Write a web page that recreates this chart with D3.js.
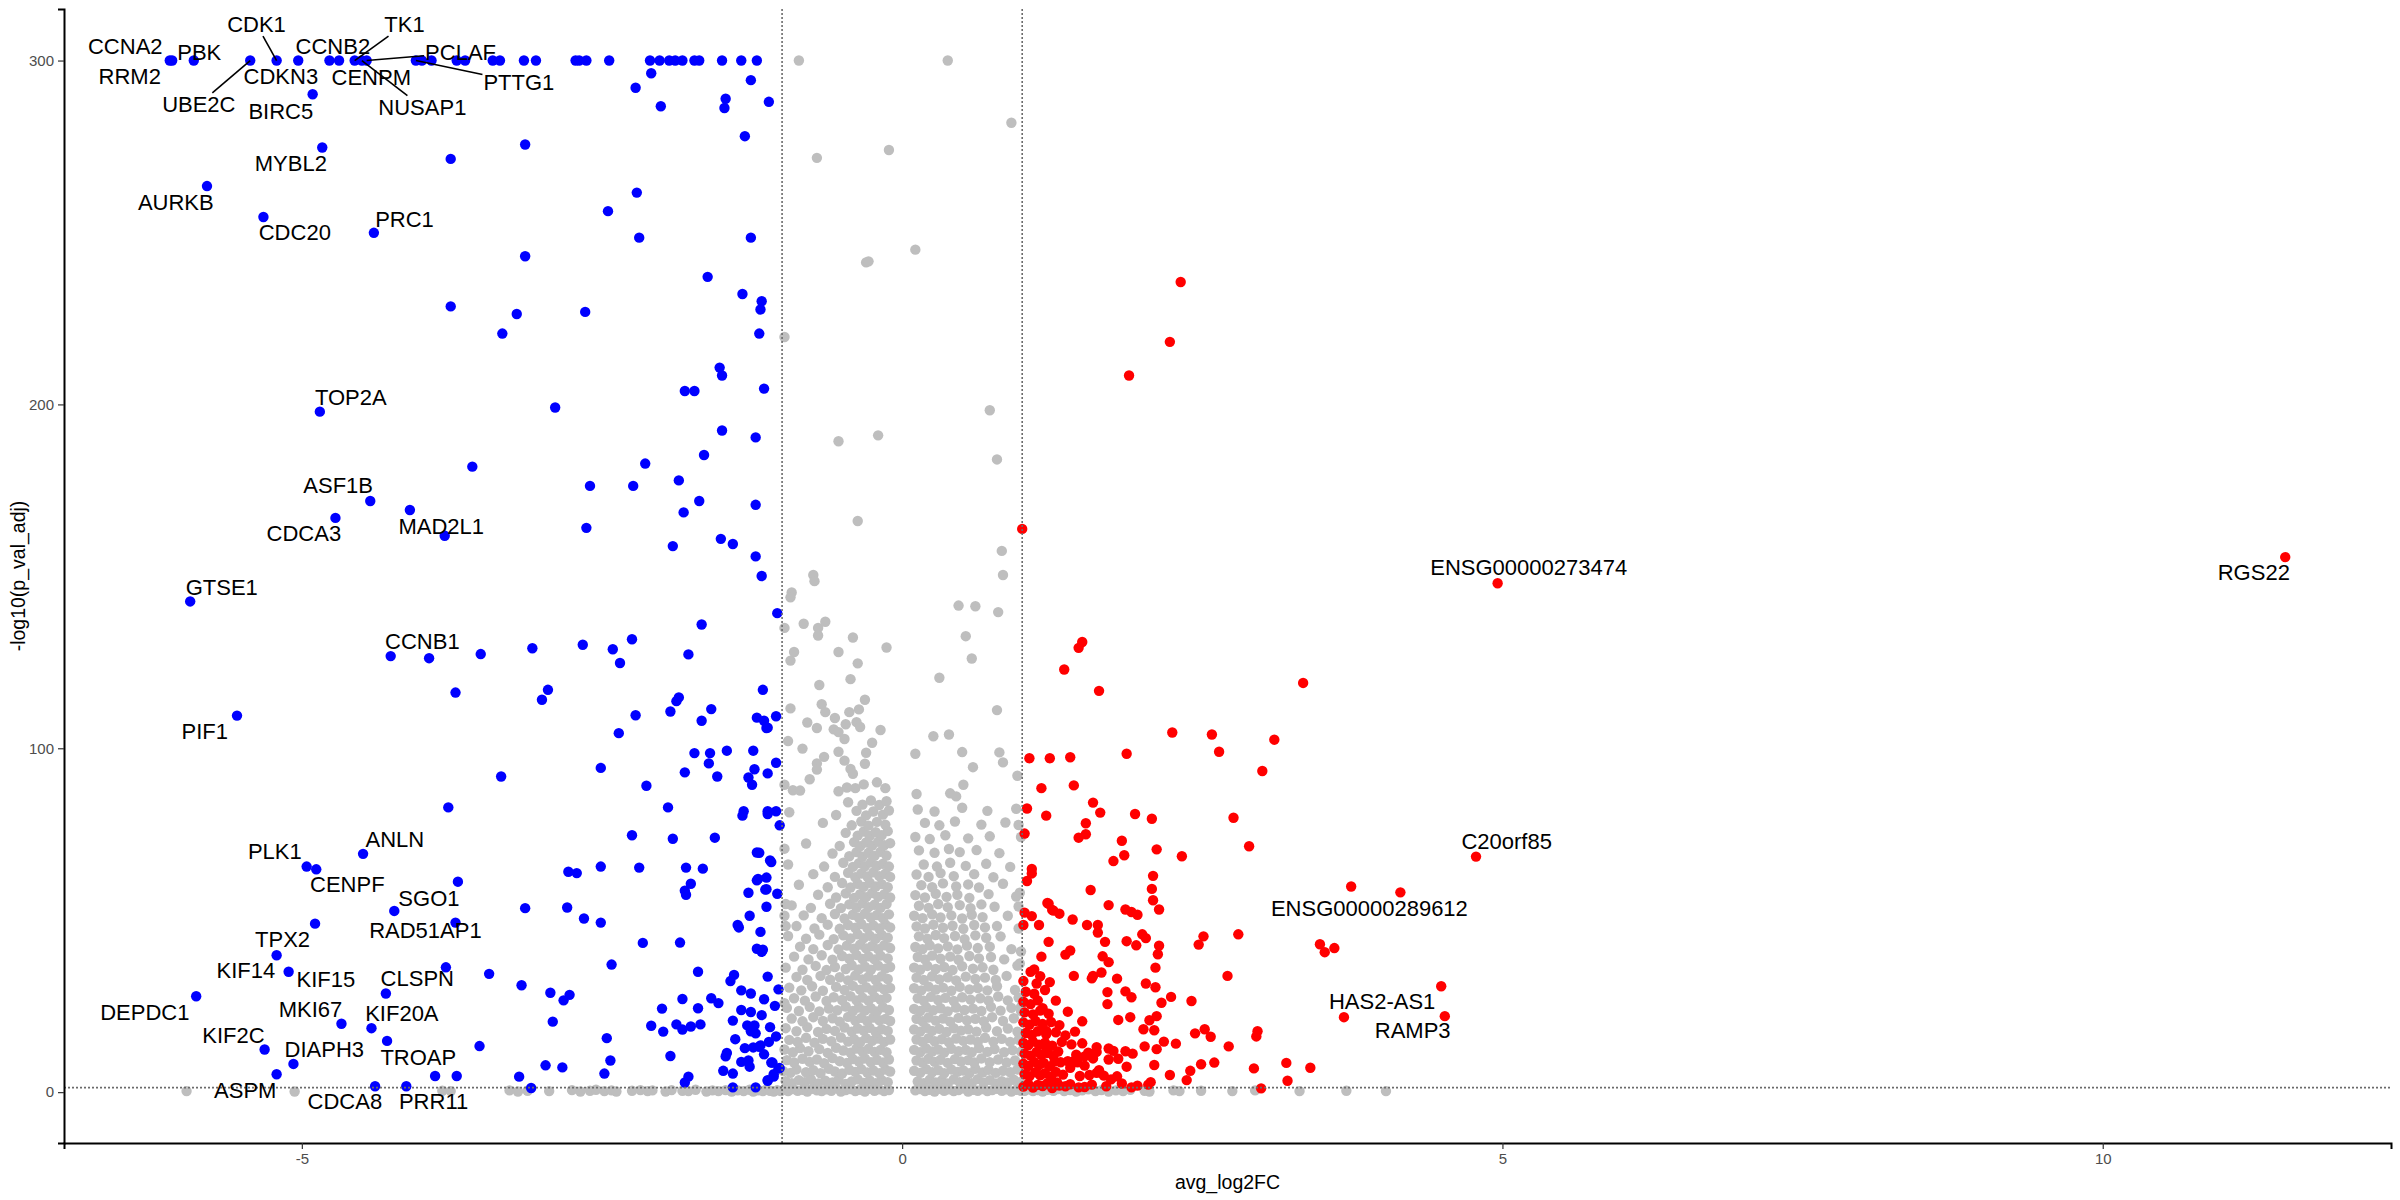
<!DOCTYPE html>
<html><head><meta charset="utf-8">
<script src="https://cdn.jsdelivr.net/npm/d3@7"></script>
<style>
body{margin:0;background:#fff;}
svg{display:block;}
text{font-family:"Liberation Sans",Arial,Helvetica,sans-serif;}
</style>
</head><body>
<svg id="chart" width="2400" height="1200"></svg>
<script>
// ---------------- DATA ----------------
const xTicks = [-5, 0, 5, 10];
const yTicks = [0, 100, 200, 300];
const xTitle = "avg_log2FC";
const yTitle = "-log10(p_val_adj)";
const fcCutoff = 1;
const padjCutoff = 0.05;

// labelled genes: [gene, avg_log2FC, -log10(p_val_adj)]
const labeledGenes = ["CCNA2","RRM2","PBK","UBE2C","CDK1","CDKN3","BIRC5","CCNB2","TK1","CENPM","PCLAF","NUSAP1","PTTG1","MYBL2","AURKB","CDC20","PRC1","TOP2A","ASF1B","CDCA3","MAD2L1","GTSE1","CCNB1","PIF1","ANLN","PLK1","CENPF","SGO1","RAD51AP1","TPX2","KIF14","KIF15","CLSPN","DEPDC1","MKI67","KIF20A","KIF2C","DIAPH3","TROAP","ASPM","CDCA8","PRR11","RGS22","ENSG00000273474","C20orf85","ENSG00000289612","HAS2-AS1","RAMP3"];
const labeledLog2FC = [-6.10,-6.08,-5.90,-5.43,-5.21,-5.03,-4.91,-4.77,-4.56,-4.69,-4.46,-4.50,-4.05,-4.83,-5.79,-5.32,-4.40,-4.85,-4.43,-4.72,-3.81,-5.93,-4.26,-5.54,-4.49,-4.96,-4.88,-3.70,-4.23,-4.89,-5.21,-5.11,-4.30,-5.88,-4.67,-4.42,-5.31,-5.07,-4.29,-5.21,-4.39,-4.13,11.52,4.96,4.78,4.15,4.49,4.52];
const labeledNegLogP = [300,300,300,300,300,300,290.2,300,300,300,300,300,300,274.7,263.5,254.5,249.9,197.9,171.9,167,161.8,142.7,126.8,109.5,69.3,65.6,64.8,61.2,52.7,49,39.8,35,28.7,27.9,19.9,18.6,12.4,8.2,14.9,5.2,1.7,1.7,155.6,148,68.5,58.1,30.8,22.1];

// down-regulated (blue) genes [avg_log2FC, -log10(p_val_adj)]
const downPoints = [
[-4.00,300],[-3.92,300],[-3.71,300],[-3.64,300],[-3.41,300],[-3.35,300],[-3.15,300],[-3.05,300],[-2.72,300],[-2.69,300],[-2.63,300],[-2.44,300],[-2.10,300],[-2.02,300],[-1.94,300],[-1.89,300],[-1.83,300],[-1.73,300],[-1.69,300],[-1.50,300],[-1.34,300],[-1.21,300],
[-2.09,296.3],[-2.22,292.1],[-1.26,294.3],[-1.47,288.9],[-2.01,286.7],[-1.48,286.2],[-1.11,288],[-1.31,278],[-3.14,275.6],[-3.76,271.4],[-2.21,261.6],[-2.45,256.2],[-2.19,248.5],[-1.26,248.5],[-3.14,243.1],
[-3.76,228.5],[-3.21,226.3],[-2.64,226.9],[-3.33,220.6],[-1.62,237.1],[-1.33,232.1],[-1.17,230],[-1.18,227.6],[-1.19,220.6],[-1.52,210.7],[-1.50,208.4],
[-1.81,203.9],[-1.73,203.9],[-1.15,204.6],[-2.89,199.1],[-1.50,192.4],[-1.22,190.4],[-1.65,185.3],[-3.58,181.9],[-2.14,182.8],[-1.86,177.9],[-2.60,176.3],[-2.24,176.3],[-1.69,171.9],[-4.10,169.3],[-1.22,170.8],[-1.82,168.6],[-2.63,164.1],[-1.91,158.8],[-1.51,160.9],[-1.41,159.4],[-1.22,155.8],[-1.17,150.1],[-1.04,139.3],[-1.67,136],[-2.25,131.7],[-2.66,130.1],[-3.08,129.1],[-3.51,127.4],[-3.94,126.2],[-1.78,127.3],
[-2.41,128.8],[-2.35,124.8],[-3.72,116.2],[-2.95,117],[-3.00,114.1],[-1.16,117],[-1.86,114.8],[-1.88,113.7],[-1.93,110.7],[-2.22,109.6],[-1.59,111.4],[-1.67,108],[-1.21,108.9],[-1.15,108],[-1.12,106],[-1.05,109.3],[-1.13,105.9],[-2.36,104.4],[-1.73,98.6],[-1.60,98.6],[-1.46,99.3],[-1.24,99.3],[-1.61,95.6],[-1.23,93.9],[-1.05,95.8],[-1.12,92.7],[-2.51,94.3],[-1.81,93],[-1.54,91.8],[-1.28,91.5],[-1.25,89.4],[-3.34,91.8],[-2.13,89.1],[-3.78,82.8],[-1.95,82.8],[-1.32,81.7],[-1.33,80.4],[-1.12,81.7],[-1.12,80.9],[-1.05,81.7],[-1.02,77.6],[-2.25,74.7],[-1.91,73.7],[-1.56,74],[-1.21,69.7],[-1.19,69.6],[-1.09,66.9],[-1.10,67.4],
[-2.78,64.1],[-2.71,63.7],[-2.51,65.6],[-2.19,65.3],[-1.80,65.3],[-1.66,65],[-1.76,60.6],[-1.81,58.6],[-1.80,57.4],[-1.21,61.6],[-1.20,62],[-1.13,62.4],[-1.28,58],[-1.13,59],[-1.04,57.7],[-1.14,58.9],[-3.14,53.5],[-2.79,53.7],[-2.65,50.5],[-2.51,49.3],[-1.13,53.9],[-1.37,48.6],[-1.36,47.9],[-1.27,51.3],[-1.18,46.6],[-3.72,49.3],[-2.16,43.4],[-1.85,43.5],[-1.21,41.7],[-1.17,40.8],[-1.16,41.4],
[-3.80,36.3],[-3.44,34.4],[-2.42,37.1],[-3.17,31.1],[-2.93,28.9],[-2.82,26.7],[-2.77,28.3],[-1.70,35],[-1.40,34.1],[-1.43,32.3],[-1.34,29.6],[-1.26,28.7],[-1.12,33.6],[-1.03,29.9],[-1.83,27.1],[-1.59,27.3],[-1.53,25.9],[-1.70,24.4],[-2.00,24.3],[-2.91,20.5],[-2.09,19.3],[-1.99,17.6],[-1.88,19.7],[-1.83,18.2],[-1.76,19.1],[-1.68,19.7],[-1.41,20.8],[-1.34,23.9],[-1.26,23.3],[-1.29,19.4],[-1.23,19.4],[-1.26,17.7],[-1.22,17.1],[-1.10,18.9],[-1.39,15.4],[-1.11,14.6],[-1.31,12.8],[-1.24,13],[-1.19,13.2],[-1.18,13.6],[-2.46,15.7],[-3.52,13.4],
[-1.93,10.5],[-1.46,11.4],[-1.47,10.4],[-1.34,8.8],[-1.28,9.2],[-1.27,7.4],[-1.09,8.6],[-1.02,7],[-2.43,9.2],[-2.97,7.8],[-2.83,7.2],[-2.48,5.4],[-3.89,4.7],[-3.71,4.7],[-3.19,4.5],[-3.09,1.2],[-1.81,2.8],[-1.78,4.5],[-1.49,6.2],[-1.41,5.4],[-1.12,3.3],[-1.07,4.5],[-1.41,1.4],[-1.22,1.4],[-1.08,8.6],[-1.03,6.9],[-1.12,3.5],[-1.07,5.2],[-1.15,11.0],[-1.05,16.2],[-1.17,22.4],[-1.06,25.1],[-1.15,27.0]
];

// up-regulated (red) genes [avg_log2FC, -log10(p_val_adj)]
const upPoints = [
[2.32,235.6],[2.23,218.2],[1.89,208.4],[1.00,163.8],[1.50,130.9],[1.47,129.2],[1.35,122.9],[1.64,116.7],[3.34,119],[2.25,104.6],[2.58,104],[2.64,99],[3.10,102.5],[3.00,93.4],[1.06,97.1],[1.40,97.4],[1.87,98.4],[1.16,88.4],[1.43,89.2],[1.04,82.5],[1.20,80.4],[1.59,84.2],[1.65,81.3],[1.94,80.9],[2.08,79.5],[2.76,79.8],[1.02,75.2],[1.47,74],[1.53,78.2],[1.53,75],[1.83,73.1],[1.85,68.9],[1.76,67.2],[2.12,70.6],[2.33,68.6],[2.89,71.5],[1.08,64.9],[1.08,63.6],[1.04,61.4],[2.09,62.9],[2.08,59.1],[2.09,55.8],[2.14,53.1],[1.57,58.8],[1.72,54.4],[3.74,59.8],[1.23,97.1],[1.21,55],[1.25,53],
[1.22,54.8],[1.26,52.8],[1.31,51.9],[1.02,52.2],[1.08,51.2],[1.01,48.6],[1.14,48.6],[1.42,50.2],[1.54,48.6],[1.63,48.6],[1.63,46.4],[1.86,53.1],[1.91,52.4],[1.96,51.6],[1.87,43.9],[1.95,42.7],[2.00,45.9],[2.03,44.8],[2.14,42.6],[2.13,40.1],[2.11,36.2],[2.11,30.5],[1.69,43.7],[1.67,39.5],[1.72,37.8],[1.36,40],[1.40,41.2],[1.22,43.7],[1.16,39.4],[1.07,35],[1.10,35.7],[1.15,33.7],[1.23,32],[1.43,33.8],[1.59,33.8],[1.58,33.1],[1.66,34.8],[1.79,33],[2.03,31.6],[2.47,42.9],[2.51,45.3],[2.80,45.9],[2.71,33.8],[2.24,27.7],[2.41,26.5],[2.16,26],[2.12,22.1],[2.06,20.9],[2.01,18.3],[2.10,18],[2.18,14.7],[2.28,14.1],[2.44,17.1],[2.52,18.3],[2.57,16.1],[2.96,17.7],[2.95,16.2],[2.72,13.3],[1.71,29.1],[1.71,25.6],[1.86,29.3],[1.91,27.6],[1.90,21.8],[1.80,21],[3.48,43],[3.52,40.7],[3.60,41.9],[3.68,21.8],
[2.93,6.9],[3.20,8.5],[3.40,7.1],[3.21,3.3],[2.99,1.1],[2.23,5],[2.37,3.5],[2.40,6.2],[2.49,8.1],[2.60,8.6],[2.10,7.9],[1.96,1.9],[2.05,2.2],[2.07,2.9],[1.87,7.4],[2.02,13.3],[2.12,12.5],[1.86,11.9],[1.92,11.2],[1.72,12.7],[1.76,12],[1.80,9.7],[1.72,9.5],[1.62,13.1],[1.62,11.7],[1.59,9.8],[1.52,10.4],[1.64,6.4],[1.56,5],[1.74,3.7],[1.79,4.6],[1.46,8.7],[1.38,9],[1.43,9],[1.32,8.7],[1.40,7.1],[1.47,1.4],[1.36,1.7],[1.29,2.8],
[1.01,1.6],[1.05,2.4],[1.09,1.3],[1.13,2.1],[1.17,1.8],[1.21,2.6],[1.25,1.2],[1.31,1.9],[1.40,2.3],[1.52,1.5],[1.58,2.2],[1.70,1.7],[1.83,2.5],[1.91,1.4],
[1.02,5.2],[1.06,4.6],[1.11,5.8],[1.15,4.9],[1.19,5.5],[1.24,4.4],[1.28,5.9],[1.34,5.1],[1.48,4.7],[1.62,5.6],[1.68,4.8],
[1.01,8.3],[1.05,7.6],[1.10,8.8],[1.14,7.9],[1.18,8.5],[1.23,7.5],[1.27,8.9],[1.52,7.7],
[1.02,11.2],[1.07,10.6],[1.12,11.7],[1.16,10.8],[1.21,11.4],[1.26,10.5],[1.30,11.8],[1.45,10.9],[1.55,11.5],
[1.01,14.3],[1.05,13.6],[1.09,14.7],[1.14,13.8],[1.19,14.4],[1.25,13.5],[1.33,14.6],[1.41,13.9],[1.50,14.2],
[1.03,17.2],[1.08,16.6],[1.13,17.7],[1.20,16.8],[1.28,17.4],[1.36,16.5],[1.44,17.6],
[1.01,20.3],[1.06,19.6],[1.11,20.7],[1.17,19.8],[1.24,20.4],[1.31,19.5],[1.50,20.6],
[1.02,23.2],[1.09,22.6],[1.15,23.7],[1.22,22.8],[1.38,23.4],
[1.01,26.3],[1.07,25.6],[1.13,26.7],[1.28,26.6],[1.03,29.2],[1.10,28.6],[1.19,29.7],[1.01,32.3],[1.12,31.6],[1.17,24.4],[1.20,17.8],[1.20,12.1]
];

// not significant (grey) genes [avg_log2FC, -log10(p_val_adj)]
const notSigPoints = [
// sparse upper genes
[-0.86,300],[0.38,300],[0.91,281.9],[-0.11,274],[-0.71,271.7],[0.11,245],[-0.30,241.3],[-0.28,241.6],[-0.98,219.6],[-0.53,189.3],[-0.20,191],[0.73,198.3],[0.79,184],[-0.37,166.1],[0.83,157.4],[0.84,150.4],[-0.74,150.4],[-0.73,148.6],[-0.92,145.3],[-0.93,143.9],[0.47,141.5],[0.61,141.3],[0.80,139.6],[-0.98,135],[-0.82,136.2],[-0.70,135],[-0.64,136.8],[-0.70,132.8],[-0.41,132.2],[0.53,132.6],[-0.90,128],[-0.93,125.5],[-0.53,128],[-0.13,129.3],[-0.37,124.7],[0.58,126.1],[0.31,120.5],[-0.43,120.1],[-0.69,118.4],[0.79,111.1],[-0.93,111.6],[-0.67,112.8],[-0.64,110.5],[-0.31,114.1],[-0.36,111.3],[-0.44,110.5],[0.26,103.5],[0.39,104],[0.11,98.4],[0.50,98.9],[0.81,98.8],[0.59,94.5],[0.84,95.9],[0.12,86.7],[0.40,86.9],[0.45,86],[0.51,89.4],[0.96,92],
[-0.79,107.5],[-0.71,105.9],[-0.56,108.8],[-0.47,107],[-0.38,107.6],[-0.35,106.2],[-0.57,105.5],[-0.53,104.7],[-0.48,102.7],[-0.18,105.3],[-0.25,101.6],[-0.95,102.1],[-0.83,99.9],[-0.53,99],[-0.48,96.4],[-0.30,98.7],[-0.65,97.5],[-0.71,95.6],[-0.43,94],[-0.71,93.8],[-0.41,92.6],[-0.31,95.5],[-0.98,89.4],[-0.91,87.8],[-0.85,87.7],[-0.77,91],[-0.21,90.1],[-0.14,88.4],[-0.32,89.5],[-0.39,88.4],[-0.46,88.6],[-0.53,87.5],
[-0.98,70.8],[-0.97,54.7],[-0.98,51.3],[-0.97,48.3],[-0.98,25.9],[0.97,77.7],[0.99,74.2],[0.98,58],[0.97,54],[0.99,40.9],[0.98,37.4],[0.99,24.8],
// left cloud
[-0.99,0.6],[-0.95,0.3],[-0.91,0.9],[-0.87,0.4],[-0.83,0.7],[-0.79,0.2],[-0.75,1.0],[-0.71,0.5],[-0.67,0.3],[-0.63,0.8],[-0.59,0.4],[-0.55,1.1],[-0.51,0.2],[-0.47,0.6],[-0.43,0.9],[-0.39,0.3],[-0.35,0.7],[-0.31,0.2],[-0.27,1.0],[-0.23,0.4],[-0.19,0.8],[-0.15,0.3],[-0.11,0.6],
[-0.97,3.2],[-0.92,2.6],[-0.86,3.5],[-0.81,2.9],[-0.76,3.8],[-0.70,2.5],[-0.64,3.3],[-0.58,2.8],[-0.53,3.6],[-0.47,2.4],[-0.42,3.1],[-0.37,3.7],[-0.32,2.7],[-0.27,3.4],[-0.22,2.6],[-0.17,3.5],[-0.12,2.9],
[-0.99,6.1],[-0.93,5.6],[-0.88,6.6],[-0.80,5.8],[-0.74,6.4],[-0.68,5.5],[-0.61,6.8],[-0.56,6.0],[-0.50,5.4],[-0.44,6.5],[-0.39,5.9],[-0.34,6.7],[-0.29,5.7],[-0.24,6.3],[-0.19,5.5],[-0.14,6.6],[-0.10,6.0],
[-0.96,9.3],[-0.90,8.6],[-0.83,9.7],[-0.77,8.8],[-0.71,9.5],[-0.65,8.4],[-0.58,9.9],[-0.52,9.0],[-0.46,8.5],[-0.41,9.6],[-0.36,8.9],[-0.31,9.8],[-0.26,8.7],[-0.21,9.4],[-0.16,8.6],[-0.11,9.5],
[-0.98,12.4],[-0.91,11.6],[-0.85,12.8],[-0.78,11.9],[-0.69,12.5],[-0.62,11.4],[-0.55,12.9],[-0.49,12.1],[-0.43,11.5],[-0.38,12.7],[-0.33,11.8],[-0.28,12.6],[-0.23,11.7],[-0.18,12.3],[-0.13,11.6],
[-0.94,15.2],[-0.87,14.6],[-0.80,15.8],[-0.73,14.4],[-0.66,15.5],[-0.59,14.8],[-0.51,15.9],[-0.45,14.7],[-0.40,15.4],[-0.35,14.5],[-0.30,15.7],[-0.25,14.9],[-0.20,15.6],[-0.15,14.6],[-0.10,15.3],
[-0.97,18.6],[-0.88,17.7],[-0.79,18.9],[-0.70,17.5],[-0.63,18.4],[-0.56,17.8],[-0.48,18.8],[-0.42,17.6],[-0.37,18.5],[-0.32,17.9],[-0.27,18.7],[-0.22,17.5],[-0.17,18.3],[-0.12,17.8],
[-0.92,21.4],[-0.83,20.6],[-0.74,21.8],[-0.66,20.7],[-0.58,21.5],[-0.52,20.5],[-0.45,21.9],[-0.39,20.8],[-0.34,21.6],[-0.29,20.6],[-0.24,21.7],[-0.19,20.9],[-0.14,21.3],[-0.10,20.7],
[-0.96,24.5],[-0.86,23.6],[-0.77,24.8],[-0.69,23.5],[-0.61,24.3],[-0.54,23.8],[-0.47,24.9],[-0.41,23.6],[-0.36,24.6],[-0.31,23.7],[-0.26,24.4],[-0.21,23.5],[-0.16,24.7],[-0.11,23.9],
[-0.90,27.3],[-0.81,26.6],[-0.72,27.8],[-0.63,26.5],[-0.57,27.6],[-0.50,26.8],[-0.43,27.9],[-0.38,26.7],[-0.33,27.5],[-0.28,26.6],[-0.23,27.7],[-0.18,26.9],[-0.13,27.4],
[-0.94,30.4],[-0.84,29.6],[-0.75,30.8],[-0.66,29.5],[-0.55,30.6],[-0.48,29.7],[-0.41,30.9],[-0.35,29.8],[-0.30,30.5],[-0.25,29.6],[-0.20,30.7],[-0.15,29.9],[-0.10,30.3],
[-0.88,33.5],[-0.79,32.6],[-0.68,33.8],[-0.60,32.7],[-0.52,33.4],[-0.45,32.5],[-0.39,33.9],[-0.33,32.8],[-0.28,33.6],[-0.22,32.6],[-0.17,33.7],[-0.12,32.9],
[-0.97,36.2],[-0.83,35.6],[-0.72,36.7],[-0.63,35.5],[-0.56,36.4],[-0.47,35.8],[-0.42,36.9],[-0.36,35.7],[-0.31,36.5],[-0.26,35.6],[-0.20,36.8],[-0.14,35.9],[-0.10,36.4],
[-0.90,39.4],[-0.78,38.6],[-0.67,39.8],[-0.58,38.5],[-0.50,39.6],[-0.44,38.8],[-0.38,39.9],[-0.33,38.7],[-0.28,39.5],[-0.23,38.6],[-0.18,39.7],[-0.12,38.9],
[-0.85,42.3],[-0.74,41.6],[-0.62,42.8],[-0.53,41.5],[-0.46,42.6],[-0.40,41.7],[-0.35,42.9],[-0.30,41.8],[-0.25,42.5],[-0.20,41.6],[-0.15,42.7],[-0.10,41.9],
[-0.95,45.4],[-0.80,44.6],[-0.69,45.8],[-0.57,44.5],[-0.49,45.6],[-0.43,44.7],[-0.37,45.9],[-0.32,44.8],[-0.27,45.5],[-0.22,44.6],[-0.17,45.7],[-0.12,44.9],
[-0.88,48.3],[-0.73,47.6],[-0.62,48.7],[-0.52,47.5],[-0.45,48.6],[-0.39,47.8],[-0.34,48.9],[-0.29,47.7],[-0.24,48.5],[-0.19,47.6],[-0.14,48.8],[-0.10,47.9],
[-0.82,51.4],[-0.67,50.6],[-0.56,51.8],[-0.48,50.5],[-0.41,51.6],[-0.36,50.7],[-0.31,51.9],[-0.26,50.8],[-0.21,51.5],[-0.16,50.6],[-0.11,51.7],
[-0.92,54.3],[-0.76,53.6],[-0.60,54.8],[-0.51,53.5],[-0.44,54.6],[-0.38,53.7],[-0.33,54.9],[-0.28,53.8],[-0.23,54.5],[-0.18,53.6],[-0.13,54.7],
[-0.70,57.4],[-0.55,56.6],[-0.47,57.8],[-0.40,56.5],[-0.35,57.6],[-0.30,56.7],[-0.25,57.9],[-0.20,56.8],[-0.15,57.5],[-0.10,56.6],
[-0.86,60.3],[-0.62,59.6],[-0.50,60.8],[-0.43,59.5],[-0.37,60.6],[-0.32,59.7],[-0.27,60.9],[-0.22,59.8],[-0.17,60.5],[-0.12,59.6],
[-0.74,63.4],[-0.56,62.6],[-0.45,63.8],[-0.39,62.5],[-0.34,63.6],[-0.29,62.7],[-0.24,63.9],[-0.19,62.8],[-0.14,63.5],[-0.10,62.6],
[-0.95,66.2],[-0.65,65.6],[-0.49,66.7],[-0.41,65.5],[-0.36,66.6],[-0.31,65.7],[-0.26,66.8],[-0.21,65.8],[-0.16,66.4],[-0.11,65.6],
[-0.58,69.4],[-0.44,68.6],[-0.38,69.8],[-0.33,68.5],[-0.28,69.6],[-0.23,68.7],[-0.18,69.9],[-0.13,68.8],
[-0.80,72.3],[-0.52,71.6],[-0.40,72.7],[-0.35,71.5],[-0.30,72.6],[-0.25,71.7],[-0.20,72.8],[-0.15,71.8],[-0.10,72.4],
[-0.47,75.4],[-0.37,74.6],[-0.32,75.8],[-0.27,74.5],[-0.22,75.6],[-0.17,74.7],[-0.12,75.9],
[-0.66,78.3],[-0.42,77.6],[-0.34,78.7],[-0.28,77.5],[-0.21,78.6],[-0.14,77.8],
[-0.94,81.4],[-0.55,80.6],[-0.38,81.8],[-0.30,80.5],[-0.24,81.6],[-0.16,80.7],[-0.11,81.9],
[-0.45,84.3],[-0.33,83.6],[-0.26,84.8],[-0.19,83.5],[-0.13,84.6],
// right cloud
[0.11,0.5],[0.15,0.9],[0.19,0.3],[0.23,0.7],[0.27,0.2],[0.31,1.0],[0.35,0.4],[0.39,0.8],[0.43,0.3],[0.47,0.6],[0.51,1.1],[0.55,0.2],[0.59,0.7],[0.63,0.4],[0.67,0.9],[0.71,0.3],[0.75,0.6],[0.79,1.0],[0.83,0.4],[0.87,0.8],[0.91,0.2],[0.95,0.7],[0.99,0.4],
[0.13,3.1],[0.18,2.6],[0.23,3.6],[0.28,2.8],[0.33,3.4],[0.38,2.5],[0.43,3.7],[0.48,2.9],[0.53,3.3],[0.58,2.6],[0.63,3.8],[0.68,2.7],[0.73,3.5],[0.78,2.5],[0.83,3.2],[0.88,2.8],[0.93,3.6],[0.98,2.9],
[0.10,6.2],[0.15,5.6],[0.20,6.7],[0.25,5.8],[0.30,6.4],[0.35,5.5],[0.41,6.6],[0.46,5.9],[0.51,6.3],[0.56,5.5],[0.61,6.8],[0.67,5.7],[0.72,6.5],[0.78,5.6],[0.84,6.2],[0.90,5.8],[0.96,6.6],
[0.12,9.2],[0.17,8.6],[0.22,9.7],[0.27,8.8],[0.32,9.4],[0.38,8.5],[0.44,9.6],[0.49,8.9],[0.55,9.3],[0.60,8.6],[0.66,9.8],[0.73,8.7],[0.80,9.5],[0.87,8.6],[0.94,9.2],
[0.10,12.3],[0.15,11.6],[0.20,12.7],[0.25,11.8],[0.30,12.4],[0.35,11.5],[0.41,12.6],[0.47,11.9],[0.53,12.3],[0.58,11.6],[0.64,12.8],[0.71,11.7],[0.77,12.5],[0.85,11.6],[0.92,12.2],[0.99,11.8],
[0.12,15.3],[0.17,14.6],[0.22,15.7],[0.27,14.8],[0.33,15.4],[0.39,14.5],[0.45,15.6],[0.51,14.9],[0.57,15.3],[0.63,14.6],[0.69,15.8],[0.76,14.7],[0.83,15.5],[0.90,14.6],[0.97,15.2],
[0.10,18.2],[0.15,17.6],[0.20,18.7],[0.25,17.8],[0.31,18.4],[0.37,17.5],[0.43,18.6],[0.49,17.9],[0.55,18.3],[0.62,17.6],[0.70,18.8],[0.79,17.7],[0.88,18.5],[0.96,17.6],
[0.12,21.3],[0.17,20.6],[0.22,21.7],[0.28,20.8],[0.34,21.4],[0.40,20.5],[0.47,21.6],[0.54,20.9],[0.61,21.3],[0.68,20.6],[0.75,21.8],[0.84,20.7],[0.93,21.5],
[0.10,24.2],[0.15,23.6],[0.20,24.7],[0.26,23.8],[0.32,24.4],[0.38,23.5],[0.45,24.6],[0.52,23.9],[0.59,24.3],[0.66,23.6],[0.74,24.8],[0.82,23.7],[0.91,24.5],[0.99,23.6],
[0.13,27.3],[0.18,26.6],[0.24,27.7],[0.30,26.8],[0.36,27.4],[0.43,26.5],[0.50,27.6],[0.57,26.9],[0.65,27.3],[0.72,26.6],[0.80,27.8],[0.88,26.7],[0.97,27.5],
[0.10,30.2],[0.16,29.6],[0.22,30.7],[0.28,29.8],[0.34,30.4],[0.41,29.5],[0.48,30.6],[0.56,29.9],[0.63,30.3],[0.71,29.6],[0.79,30.8],[0.94,29.7],
[0.12,33.3],[0.18,32.6],[0.25,33.7],[0.31,32.8],[0.38,33.4],[0.45,32.5],[0.53,33.6],[0.61,32.9],[0.69,33.3],[0.78,32.6],[0.87,33.8],
[0.10,36.2],[0.15,35.6],[0.21,36.7],[0.28,35.8],[0.35,36.4],[0.42,35.5],[0.50,36.6],[0.59,35.9],[0.67,36.3],[0.76,35.6],[0.96,36.8],
[0.13,39.3],[0.19,38.6],[0.25,39.7],[0.32,38.8],[0.40,39.4],[0.47,38.5],[0.56,39.6],[0.64,38.9],[0.74,39.3],[0.85,38.6],
[0.11,42.2],[0.17,41.6],[0.23,42.7],[0.30,41.8],[0.38,42.4],[0.46,41.5],[0.54,42.6],[0.63,41.9],[0.73,42.3],[0.91,41.6],
[0.14,45.3],[0.21,44.6],[0.28,45.7],[0.35,44.8],[0.44,45.4],[0.52,44.5],[0.61,45.6],[0.70,44.9],[0.82,45.3],
[0.12,48.2],[0.19,47.6],[0.26,48.7],[0.34,47.8],[0.42,48.4],[0.51,47.5],[0.60,48.6],[0.69,47.9],[0.79,48.3],[0.97,47.6],
[0.10,51.3],[0.17,50.6],[0.25,51.7],[0.32,50.8],[0.41,51.4],[0.50,50.5],[0.58,51.6],[0.67,50.9],[0.88,51.3],
[0.14,54.2],[0.22,53.6],[0.30,54.7],[0.38,53.8],[0.48,54.4],[0.57,53.5],[0.66,54.6],[0.77,53.9],
[0.11,57.3],[0.19,56.6],[0.28,57.7],[0.37,56.8],[0.46,57.4],[0.56,56.5],[0.72,57.6],[0.95,56.9],
[0.16,60.2],[0.25,59.6],[0.34,60.7],[0.45,59.8],[0.55,60.4],[0.64,59.5],[0.84,60.6],
[0.12,63.3],[0.22,62.6],[0.32,63.7],[0.43,62.8],[0.60,63.4],[0.76,62.5],
[0.18,66.2],[0.29,65.6],[0.40,66.7],[0.53,65.8],[0.70,66.4],[0.90,65.5],
[0.14,70.3],[0.27,69.6],[0.39,70.7],[0.48,69.8],[0.62,70.4],[0.81,69.5],
[0.11,74.2],[0.23,73.6],[0.36,74.7],[0.55,73.8],[0.73,74.4],
[0.19,78.3],[0.31,77.6],[0.44,78.7],[0.66,77.8],[0.86,78.4],
[0.13,82.2],[0.27,81.6],[0.50,82.7],[0.71,81.8],[0.95,82.4],
// below significance, large fold change
[-5.96,0.3],[-5.06,0.2],[-3.83,0.4],[-3.76,0.3],[-3.27,0.5],[-3.20,0.2],[-3.12,0.4],[-2.94,0.3],[-2.75,0.6],[-2.68,0.2],[-2.60,0.4],[-2.55,0.7],[-2.48,0.3],[-2.42,0.5],[-2.38,0.2],[-2.25,0.4],[-2.18,0.6],[-2.12,0.3],[-2.08,0.5],[-1.97,0.2],[-1.92,0.6],[-1.83,0.4],[-1.78,0.3],[-1.72,0.7],[-1.63,0.2],[-1.58,0.5],[-1.53,0.3],[-1.47,0.6],[-1.42,0.2],[-1.37,0.5],[-1.32,0.3],[-1.27,0.7],[-1.24,0.2],[-1.20,0.5],[-1.16,0.3],[-1.13,0.8],[-1.10,0.4],[-1.07,0.2],[-1.04,0.6],[-1.01,0.3],
[1.02,0.4],[1.05,0.8],[1.09,0.3],[1.13,0.6],[1.17,0.2],[1.21,0.7],[1.26,0.4],[1.30,0.9],[1.35,0.3],[1.40,0.6],[1.45,0.2],[1.50,0.5],[1.55,0.8],[1.61,0.3],[1.66,0.6],[1.72,0.2],[1.78,0.5],[1.84,0.3],[1.90,0.7],[2.02,0.4],[2.06,0.2],[2.26,0.5],[2.31,0.3],[2.49,0.4],[2.75,0.3],[2.94,0.5],[3.31,0.3],[3.70,0.4],[4.03,0.3]
];

// ---------------- LAYOUT / STYLE ----------------
const W = 2400, H = 1200;
const panel = {left: 64, right: 2391, top: 9, bottom: 1143};
const colors = {down: "#0000FF", up: "#FF0000", ns: "#BEBEBE"};
const pointR = 5.2;
// label placement (pixel offsets of label centre from its point), like ggrepel output
const labelNudge = {
 "CCNA2":[-44.5,-14.9],"RRM2":[-42.4,15.1],"PBK":[5.5,-8.6],"UBE2C":[-51.4,43.4],"CDK1":[-20.1,-36.3],"CDKN3":[-17.4,15.4],
 "BIRC5":[-31.8,16.8],"CCNB2":[3.4,-14.6],"TK1":[49.8,-36.3],"CENPM":[32.2,16.1],"PCLAF":[93.9,-8.3],"NUSAP1":[60.5,46.1],
 "PTTG1":[103,21.1],"MYBL2":[-31.4,15.8],"AURKB":[-31.2,15.7],"CDC20":[31.4,14.8],"PRC1":[30.6,-13.5],"TOP2A":[31,-14.7],
 "ASF1B":[-32.1,-15.5],"CDCA3":[-31.6,15.1],"MAD2L1":[-3.5,-9.8],"GTSE1":[31.6,-14.4],"CCNB1":[31.7,-15.5],"PIF1":[-32.2,15.1],
 "ANLN":[31.8,-15.1],"PLK1":[-31.8,-15.4],"CENPF":[31.1,14.5],"SGO1":[-29,16.8],"RAD51AP1":[31.1,18.9],"TPX2":[-32.5,15.2],
 "KIF14":[-30.8,15.3],"KIF15":[37.2,7.1],"CLSPN":[31.4,-15.6],"DEPDC1":[-51.4,16.1],"MKI67":[-30.9,-14.4],"KIF20A":[30.4,-14.9],
 "KIF2C":[-31.1,-14.9],"DIAPH3":[30.9,-15],"TROAP":[31.2,15.7],"ASPM":[-31.4,15.7],"CDCA8":[-30.2,14.8],"PRR11":[27.3,14.8],
 "RGS22":[-31.4,14.9],"ENSG00000273474":[31.1,-16.5],"C20orf85":[30.7,-15.3],"ENSG00000289612":[-31,15.8],"HAS2-AS1":[-59.1,15],"RAMP3":[-32.1,14.4]
};
const segmentGenes = ["UBE2C","CDK1","TK1","PCLAF","PTTG1","NUSAP1"];

// ---------------- SCALES ----------------
const labeled = labeledGenes.map((g,i)=>({gene:g, fc:labeledLog2FC[i], p:labeledNegLogP[i]}));
const allFC = [...downPoints, ...upPoints, ...notSigPoints].map(d=>d[0]).concat(labeledLog2FC);
const allP = [...downPoints, ...upPoints, ...notSigPoints].map(d=>d[1]).concat(labeledNegLogP);
const xe = d3.extent(allFC), ye = d3.extent(allP);
const xPad = (xe[1]-xe[0])*0.05, yPad = (ye[1]-ye[0])*0.05;
const x = d3.scaleLinear().domain([xe[0]-xPad, xe[1]+xPad]).range([panel.left, panel.right]);
const y = d3.scaleLinear().domain([ye[0]-yPad, ye[1]+yPad]).range([panel.bottom, panel.top]);

const svg = d3.select("#chart");
svg.append("rect").attr("width",W).attr("height",H).attr("fill","#fff");

// ---------------- POINTS ----------------
function drawPoints(data, color){
  svg.append("g").selectAll("circle").data(data).join("circle")
    .attr("cx", d=>x(d[0])).attr("cy", d=>y(d[1])).attr("r", pointR).attr("fill", color);
}
drawPoints(notSigPoints, colors.ns);
drawPoints(downPoints, colors.down);
drawPoints(upPoints, colors.up);
svg.append("g").selectAll("circle").data(labeled).join("circle")
  .attr("cx", d=>x(d.fc)).attr("cy", d=>y(d.p)).attr("r", pointR)
  .attr("fill", d=> d.fc < 0 ? colors.down : colors.up);

// ---------------- THRESHOLD LINES ----------------
const refG = svg.append("g").attr("stroke","#6b6b6b").attr("stroke-width",1.6).attr("stroke-dasharray","2,2");
refG.selectAll("line.v").data([-fcCutoff, fcCutoff]).join("line").attr("class","v")
  .attr("x1", d=>x(d)).attr("x2", d=>x(d)).attr("y1", panel.top).attr("y2", panel.bottom);
refG.append("line").attr("x1", panel.left).attr("x2", panel.right)
  .attr("y1", y(-Math.log10(padjCutoff))).attr("y2", y(-Math.log10(padjCutoff)));

// ---------------- AXES ----------------
const xAxis = svg.append("g").attr("transform",`translate(0,${panel.bottom})`)
  .call(d3.axisBottom(x).tickValues(xTicks).tickSizeOuter(0).tickSize(6).tickPadding(4).tickFormat(d3.format("d")));
const yAxis = svg.append("g").attr("transform",`translate(${panel.left},0)`)
  .call(d3.axisLeft(y).tickValues(yTicks).tickSizeOuter(0).tickSize(6).tickPadding(4).tickFormat(d3.format("d")));
[xAxis,yAxis].forEach(a=>{
  a.select(".domain").attr("stroke","#000").attr("stroke-width",2);
  a.selectAll(".tick line").attr("stroke","#333").attr("stroke-width",1.2);
  a.selectAll(".tick text").attr("fill","#4D4D4D").attr("font-size",15)
    .attr("font-family",'"Liberation Sans",Arial,sans-serif').text(d=> d<0 ? "-"+Math.abs(d) : String(d));
});

svg.append("text").attr("x",(panel.left+panel.right)/2).attr("y",1189)
  .attr("text-anchor","middle").attr("font-size",19.5).attr("fill","#000").text(xTitle);
svg.append("text").attr("transform",`translate(25,${(panel.top+panel.bottom)/2}) rotate(-90)`)
  .attr("text-anchor","middle").attr("font-size",19.5).attr("fill","#000").text(yTitle);

// ---------------- GENE LABELS ----------------
const segG = svg.append("g");
const labG = svg.append("g");
labeled.forEach(d=>{
  const px = x(d.fc), py = y(d.p);
  const off = labelNudge[d.gene] || [0,0];
  const cx = px + off[0], cy = py + off[1];
  const t = labG.append("text").attr("x", cx).attr("y", cy + 7.9)
    .attr("text-anchor","middle").attr("font-size",22).attr("fill","#000").text(d.gene);
  if (segmentGenes.includes(d.gene)) {
    const b = t.node().getBBox();
    const bx = b.x + b.width/2, by = b.y + b.height/2;
    const hx = b.width/2 + 1, hy = b.height/2 - 1;
    const ax = Math.abs(px-bx), ay = Math.abs(py-by);
    const tt = Math.min(ax>0 ? hx/ax : Infinity, ay>0 ? hy/ay : Infinity);
    const ex = bx + tt*(px-bx), ey = by + tt*(py-by);
    segG.append("line").attr("x1", px).attr("y1", py).attr("x2", ex).attr("y2", ey)
      .attr("stroke","#000").attr("stroke-width",1.6);
  }
});
</script>
</body></html>
